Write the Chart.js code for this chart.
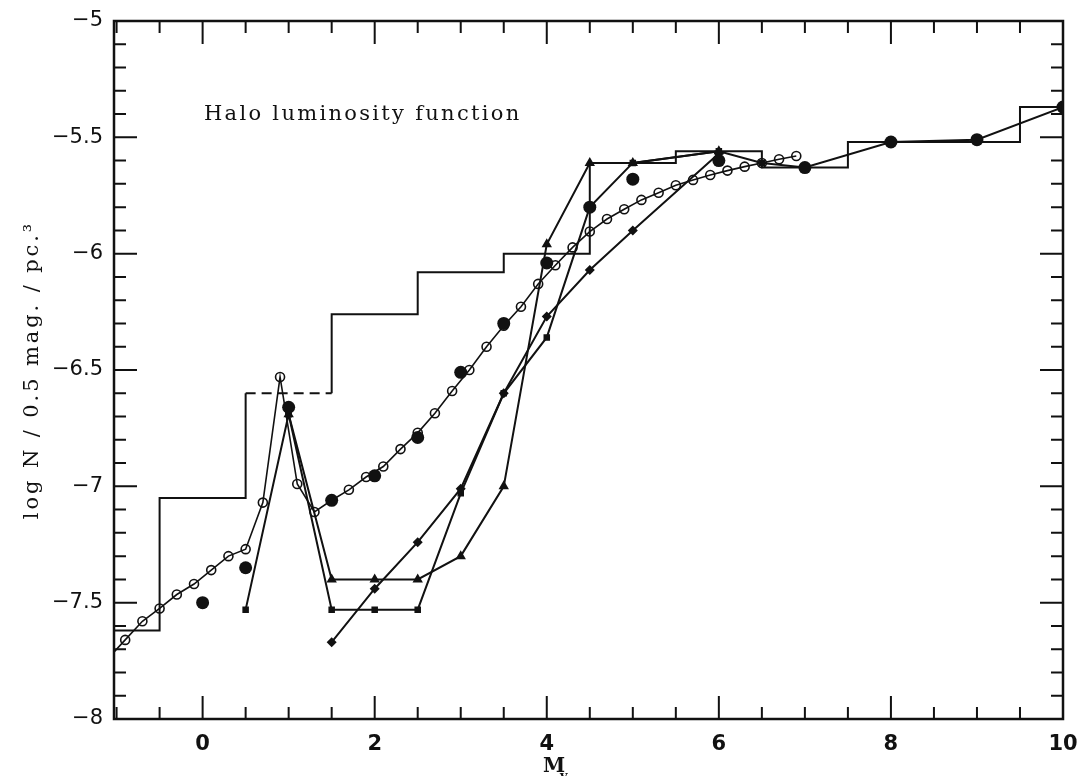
<!DOCTYPE html>
<html>
<head>
<meta charset="utf-8">
<title>Halo luminosity function</title>
<script src="https://cdn.jsdelivr.net/npm/chart.js@4.4.1/dist/chart.umd.min.js"></script>
<style>
  html, body { margin: 0; padding: 0; background: #fff; }
  #wrap { width: 1077px; height: 776px; }
</style>
</head>
<body>
<div id="wrap"><canvas id="lfChart"></canvas></div>
<script>
// ===========================
// DATA
// ===========================
// star-count histogram: bin edges (M_v) and log N per bin
const histEdges = [-1.5, -0.5, 0.5, 1.5, 2.5, 3.5, 4.5, 5.5, 6.5, 7.5, 9.5, 10];
const histLogN = [-7.62, -7.05, -6.60, -6.26, -6.08, -6.00, -5.61, -5.56, -5.63, -5.52, -5.37];
const histDashedBin = 2; // uncertain bin, drawn dashed

// model curve (open circles)
const modelMag = [-1.1, -0.9, -0.7, -0.5, -0.3, -0.1, 0.1, 0.3, 0.5, 0.7, 0.9, 1.1, 1.3, 1.5,
    1.7, 1.9, 2.1, 2.3, 2.5, 2.7, 2.9, 3.1, 3.3, 3.5, 3.7, 3.9, 4.1, 4.3, 4.5, 4.7, 4.9,
    5.1, 5.3, 5.5, 5.7, 5.9, 6.1, 6.3, 6.5, 6.7, 6.9];
const modelLogN = [-7.74, -7.66, -7.58, -7.525, -7.465, -7.42, -7.36, -7.30, -7.27, -7.07, -6.53,
    -6.99, -7.11, -7.06, -7.015, -6.96, -6.915, -6.84, -6.77, -6.686, -6.59, -6.50, -6.40,
    -6.31, -6.228, -6.13, -6.05, -5.973, -5.905, -5.851, -5.809, -5.769, -5.738, -5.706,
    -5.683, -5.662, -5.643, -5.626, -5.61, -5.594, -5.58];

// large filled dots
const dotMag = [0, 0.5, 1, 1.5, 2, 2.5, 3, 3.5, 4, 4.5, 5, 6, 7, 8, 9, 10];
const dotLogN = [-7.50, -7.35, -6.66, -7.06, -6.955, -6.79, -6.51, -6.30, -6.04, -5.80, -5.68,
    -5.60, -5.63, -5.52, -5.51, -5.37];

// small filled squares
const squareMag = [0.5, 1, 1.5, 2, 2.5, 3, 3.5, 4, 4.5, 5, 6, 6.5, 7, 8, 9, 10];
const squareLogN = [-7.53, -6.69, -7.53, -7.53, -7.53, -7.03, -6.60, -6.36, -5.80, -5.61, -5.56,
    -5.61, -5.63, -5.52, -5.51, -5.37];

// small filled triangles
const triMag = [1, 1.5, 2, 2.5, 3, 3.5, 4, 4.5, 5, 6];
const triLogN = [-6.69, -7.40, -7.40, -7.40, -7.30, -7.00, -5.96, -5.61, -5.61, -5.56];

// small filled diamonds
const diaMag = [1.5, 2, 2.5, 3, 3.5, 4, 4.5, 5, 6];
const diaLogN = [-7.67, -7.44, -7.24, -7.01, -6.60, -6.27, -6.07, -5.90, -5.57];

// axis ticks
const xTicks = [0, 2, 4, 6, 8, 10];
const yTicks = [-8, -7.5, -7, -6.5, -6, -5.5, -5];

const INK = '#111';
const pts = (xs, ys) => xs.map((x, i) => ({ x, y: ys[i] }));

// histogram drawn as bin corners joined by straight segments
const histPoints = histLogN.flatMap((v, i) => [
    { x: histEdges[i], y: v },
    { x: histEdges[i + 1], y: v }
]);

// ===========================
// Frame, inside ticks, labels
// ===========================
const frameTicks = {
    id: 'frameTicks',
    afterDraw(chart) {
        const { ctx, chartArea: a, scales: { x, y } } = chart;
        ctx.save();
        ctx.strokeStyle = INK;
        ctx.lineWidth = 2.5;
        ctx.strokeRect(a.left, a.top, a.right - a.left, a.bottom - a.top);

        ctx.lineWidth = 2;
        ctx.beginPath();
        // x: minor every 0.5, major every 2
        for (let i = -2; i <= 20; i++) {
            const px = x.getPixelForValue(i / 2);
            if (px < a.left + 1 || px > a.right - 1) continue;
            const len = i % 4 === 0 ? 23 : 12;
            ctx.moveTo(px, a.bottom); ctx.lineTo(px, a.bottom - len);
            ctx.moveTo(px, a.top); ctx.lineTo(px, a.top + len);
        }
        // y: minor every 0.1, major every 0.5
        for (let i = -79; i <= -51; i++) {
            const py = y.getPixelForValue(i / 10);
            const len = i % 5 === 0 ? 23 : 12;
            ctx.moveTo(a.left, py); ctx.lineTo(a.left + len, py);
            ctx.moveTo(a.right, py); ctx.lineTo(a.right - len, py);
        }
        ctx.stroke();

        ctx.fillStyle = INK;
        ctx.textBaseline = 'alphabetic';

        // panel label
        ctx.font = '21px "DejaVu Serif"';
        ctx.letterSpacing = '2.3px';
        ctx.textAlign = 'left';
        ctx.fillText('Halo luminosity function', 204, 120);

        // y title
        ctx.save();
        ctx.translate(38, 370);
        ctx.rotate(-Math.PI / 2);
        ctx.textAlign = 'center';
        ctx.letterSpacing = '2.9px';
        ctx.font = '21px "DejaVu Serif"';
        ctx.fillText('log N / 0.5 mag. / pc.\u00b3', 0, 0);
        ctx.restore();

        // x title
        ctx.letterSpacing = '0px';
        ctx.textAlign = 'left';
        ctx.font = 'bold 20px "DejaVu Serif"';
        ctx.fillText('M', 543, 772);
        ctx.font = 'bold 13px "DejaVu Serif"';
        ctx.fillText('v', 560, 780);
        ctx.restore();
    }
};

// ===========================
// Chart
// ===========================
new Chart(document.getElementById('lfChart'), {
    type: 'line',
    data: {
        datasets: [
            {
                data: pts(dotMag, dotLogN),
                showLine: false,
                pointStyle: 'circle',
                pointRadius: 6.5,
                backgroundColor: INK,
                borderColor: INK,
                borderWidth: 0
            },
            {
                data: pts(modelMag, modelLogN),
                borderColor: INK,
                borderWidth: 1.6,
                pointStyle: 'circle',
                pointRadius: 4.5,
                pointBorderWidth: 1.6,
                pointBackgroundColor: 'rgba(255,255,255,0)',
                pointBorderColor: INK,
                tension: 0
            },
            {
                data: pts(squareMag, squareLogN),
                borderColor: INK,
                borderWidth: 2,
                pointStyle: 'rect',
                pointRadius: 3.2,
                pointBackgroundColor: INK,
                pointBorderColor: INK,
                tension: 0
            },
            {
                data: pts(triMag, triLogN),
                borderColor: INK,
                borderWidth: 2,
                pointStyle: 'triangle',
                pointRadius: 4,
                pointBackgroundColor: INK,
                pointBorderColor: INK,
                tension: 0
            },
            {
                data: pts(diaMag, diaLogN),
                borderColor: INK,
                borderWidth: 2,
                pointStyle: 'rectRot',
                pointRadius: 3.6,
                pointBackgroundColor: INK,
                pointBorderColor: INK,
                tension: 0
            },
            {
                data: histPoints,
                borderColor: INK,
                borderWidth: 2,
                pointRadius: 0,
                tension: 0,
                segment: {
                    borderDash: c => (c.p0DataIndex === histDashedBin * 2 ? [10, 6] : undefined)
                }
            }
        ]
    },
    options: {
        responsive: true,
        maintainAspectRatio: false,
        animation: false,
        layout: { padding: { top: 21, right: 14, left: 0, bottom: 0 } },
        plugins: { legend: { display: false }, tooltip: { enabled: false } },
        scales: {
            x: {
                type: 'linear',
                min: -1.03,
                max: 10,
                afterBuildTicks: s => { s.ticks = xTicks.map(v => ({ value: v })); },
                afterFit: s => {
                    s.height = 57;
                    // let the last label hang into the right margin
                    s.paddingLeft = 0;
                    s.paddingRight = 0;
                },
                grid: { display: false, drawTicks: false },
                border: { display: false },
                ticks: {
                    color: INK,
                    padding: 13,
                    maxRotation: 0,
                    autoSkip: false,
                    font: { family: 'DejaVu Sans', size: 21, weight: 'bold' }
                }
            },
            y: {
                min: -8,
                max: -5,
                afterBuildTicks: s => { s.ticks = yTicks.map(v => ({ value: v })); },
                afterFit: s => {
                    s.width = 114;
                    s.paddingTop = 0;
                    s.paddingBottom = 0;
                },
                grid: { display: false, drawTicks: false },
                border: { display: false },
                ticks: {
                    color: INK,
                    padding: 11,
                    autoSkip: false,
                    font: { family: 'DejaVu Sans', size: 21 },
                    callback: v => (v < 0 ? '\u2212' : '') + Math.abs(v)
                }
            }
        }
    },
    plugins: [frameTicks]
});
</script>
</body>
</html>
